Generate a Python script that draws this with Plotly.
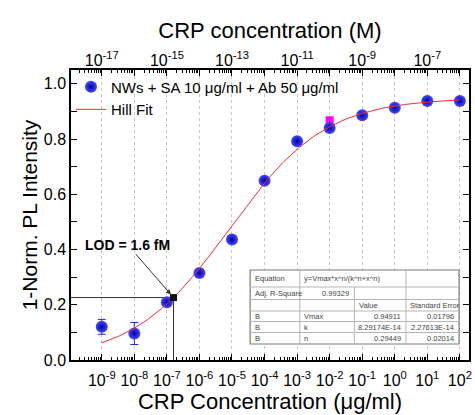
import numpy as np
import plotly.graph_objects as go

# ---- measured data (bottom axis: CRP in ug/ml) ----
conc_ugml = [1e-9, 1e-8, 1e-7, 1e-6, 1e-5, 1e-4, 1e-3, 1e-2, 1e-1, 1e0, 1e1, 1e2]
response = [0.120, 0.096, 0.209, 0.315, 0.436, 0.649, 0.792, 0.840, 0.886, 0.913, 0.938, 0.938]
response_err = [0.027, 0.040, 0.010, 0.013, 0.008, 0.006, 0.006, 0.006, 0.005, 0.005, 0.005, 0.005]

# extra reference point (magenta)
ref_conc_ugml = [1e-2]
ref_response = [0.868]

# ---- Hill fit parameters (x in M) ----
vmax = 0.94911
k_half = 8.29174e-14
n_hill = 0.29449
ugml_to_molar = 1e-8          # 1 ug/ml of CRP ~ 1e-8 M on the top axis
lod_molar = 1.6e-15           # LOD = 1.6 fM

# ---- tick labels ----
bottom_exps = list(range(-9, 3))
top_tick_exps = list(range(-18, -5))
top_label_exps = [-17, -15, -13, -11, -9, -7]

# ---- fit summary table ----
table_rows = [
    ["Equation", "y=Vmax*x^n/(k^n+x^n)", None, None],
    ["Adj. R-Square", "0.99329", None, None],
    [None, None, "Value", "Standard Error"],
    ["B", "Vmax", "0.94911", "0.01796"],
    ["B", "k", "8.29174E-14", "2.27613E-14"],
    ["B", "n", "0.29449", "0.02014"],
]


def hill(x_molar):
    x = np.asarray(x_molar, dtype=float)
    return vmax * x ** n_hill / (k_half ** n_hill + x ** n_hill)


FONT = "Liberation Sans, Arial, sans-serif"

# plot-area geometry in pixels (used to place layout items)
W, H = 475, 415
L, R, T, B = 71, 472, 70, 360
xr = [-9.945, 2.28]
yr = [0.0, 1.05]


def px_x(p):
    return (p - L) / (R - L)


def px_y(p):
    return (B - p) / (B - T)


lx = np.log10(conc_ugml)
fit_lx = np.linspace(-9, 2, 300)
fit_y = hill(10 ** fit_lx * ugml_to_molar)

lod_lx = np.log10(lod_molar / ugml_to_molar)
lod_y = float(hill(lod_molar))

fig = go.Figure()

# LOD guide lines
fig.add_trace(go.Scatter(
    x=[xr[0], lod_lx, lod_lx], y=[lod_y, lod_y, 0],
    mode="lines", line=dict(color="#333333", width=1),
    showlegend=False, hoverinfo="skip"))

fig.add_trace(go.Scatter(
    x=np.log10(ref_conc_ugml), y=ref_response, mode="markers",
    marker=dict(symbol="square", size=8, color="#ff00ff"),
    showlegend=False))

fig.add_trace(go.Scatter(
    x=lx, y=response, mode="markers",
    name="NWs + SA 10 \u03bcg/ml + Ab 50 \u03bcg/ml",
    marker=dict(symbol="circle", size=12, color="#4848ff",
                gradient=dict(type="radial", color="#0000a8"),
                line=dict(width=0)),
    error_y=dict(type="data", array=response_err, color="#2626e6",
                 thickness=1, width=4)))

fig.add_trace(go.Scatter(
    x=fit_lx, y=fit_y, mode="lines", name="Hill Fit",
    line=dict(color="#f03030", width=1)))

fig.add_trace(go.Scatter(
    x=[lod_lx], y=[lod_y], mode="markers",
    marker=dict(symbol="square", size=7, color="#111111"),
    showlegend=False))

# traces bound to the top axes so they are drawn
for ax in ("x2", "x3"):
    fig.add_trace(go.Scatter(x=[xr[0] - 8], y=[-1], xaxis=ax, mode="markers",
                             showlegend=False, hoverinfo="skip"))


def minor_vals(lo, hi):
    vals = []
    for e in range(lo, hi + 1):
        for m in range(2, 10):
            vals.append(e + np.log10(m))
    return vals


sup = lambda e: f"10<sup>{e}</sup>"

fig.update_layout(
    width=W, height=H,
    margin=dict(l=L, r=W - R, t=T, b=H - B),
    paper_bgcolor="white", plot_bgcolor="white",
    font=dict(family=FONT, color="black"),
    showlegend=True,
    legend=dict(x=0.0, y=0.998, xanchor="left", yanchor="top",
                bgcolor="rgba(0,0,0,0)", font=dict(size=15, family=FONT),
                tracegroupgap=0, itemwidth=30),
    xaxis=dict(
        range=xr, showline=True, linecolor="black", linewidth=1.5,
        mirror=True, ticks="inside", ticklen=6, tickcolor="black",
        tickvals=bottom_exps, ticktext=[sup(e) for e in bottom_exps],
        tickfont=dict(size=16, family=FONT), ticklabelstandoff=5,
        showgrid=True, gridcolor="#c8c8c8", griddash="dot", gridwidth=1,
        zeroline=False,
        minor=dict(tickvals=minor_vals(-10, 2), ticks="inside", ticklen=3,
                   tickcolor="black", showgrid=False),
        title=dict(text="CRP Concentration (\u03bcg/ml)",
                   font=dict(size=22, family=FONT), standoff=4),
    ),
    # labelled top axis (CRP in M), every second decade
    xaxis2=dict(
        range=[xr[0] - 8, xr[1] - 8], overlaying="x", side="top",
        showline=False, ticks="inside", ticklen=6, tickcolor="black",
        tickvals=top_label_exps, ticktext=[sup(e) for e in top_label_exps],
        tickfont=dict(size=16, family=FONT),
        showgrid=False, zeroline=False,
        minor=dict(tickvals=minor_vals(-18, -6), ticks="inside", ticklen=3,
                   tickcolor="black", showgrid=False),
        title=dict(text="CRP concentration (M)",
                   font=dict(size=22, family=FONT), standoff=4),
    ),
    # unlabelled decade ticks on the top axis
    xaxis3=dict(
        range=[xr[0] - 8, xr[1] - 8], overlaying="x", side="top",
        showline=False, ticks="inside", ticklen=6, tickcolor="black",
        tickvals=top_tick_exps, showticklabels=False,
        showgrid=False, zeroline=False,
    ),
    yaxis=dict(
        range=yr, showline=True, linecolor="black", linewidth=1.5,
        mirror="allticks", ticks="inside", ticklen=6, tickcolor="black",
        tickvals=[0, 0.2, 0.4, 0.6, 0.8, 1.0], tickformat=".1f",
        tickfont=dict(size=16, family=FONT),
        showgrid=False, zeroline=False,
        minor=dict(tickvals=[0.1, 0.3, 0.5, 0.7, 0.9], ticks="inside",
                   ticklen=3, tickcolor="black", showgrid=False),
        title=dict(text="1-Norm. PL Intensity",
                   font=dict(size=21, family=FONT), standoff=0),
    ),
)

# LOD label with arrow to the detection-limit point
fig.add_annotation(x=lod_lx, y=lod_y, xref="x", yref="y",
                   text="<b>LOD = 1.6 fM</b>", showarrow=True,
                   ax=-46, ay=-53, arrowhead=2, arrowsize=1, arrowwidth=1,
                   arrowcolor="#333333", standoff=4,
                   font=dict(size=14, family=FONT, color="black"))

# fit summary table
col_px = [251.5, 301.5, 356.5, 408.5, 462.0]
row_px = [270.0, 287.0, 299.5, 311.0, 321.5, 332.5, 344.0]
x0, x1 = px_x(col_px[0]), px_x(col_px[-1])
y0, y1 = px_y(row_px[-1]), px_y(row_px[0])
fig.add_shape(type="rect", xref="paper", yref="paper", x0=x0, x1=x1,
              y0=y0, y1=y1, fillcolor="white",
              line=dict(color="#7a7a7a", width=1.2), layer="above")
for rp in row_px[1:-1]:
    fig.add_shape(type="line", xref="paper", yref="paper", x0=x0, x1=x1,
                  y0=px_y(rp), y1=px_y(rp),
                  line=dict(color="#b5b5b5", width=1), layer="above")
for ci, cp in enumerate(col_px[1:-1], start=1):
    top_row = 1 if ci == 2 else 0   # first row merges columns 2-3
    fig.add_shape(type="line", xref="paper", yref="paper",
                  x0=px_x(cp), x1=px_x(cp),
                  y0=px_y(row_px[-1]), y1=px_y(row_px[top_row]),
                  line=dict(color="#b5b5b5", width=1), layer="above")

for ri, row in enumerate(table_rows):
    yc = px_y((row_px[ri] + row_px[ri + 1]) / 2)
    for ci, txt in enumerate(row):
        if not txt:
            continue
        numeric = txt[0].isdigit()
        if numeric:
            xa, anchor = px_x(col_px[ci + 1] - 3), "right"
        else:
            xa, anchor = px_x(col_px[ci] + 2.5), "left"
        fig.add_annotation(x=xa, y=yc, xref="paper", yref="paper",
                           text=txt, showarrow=False, xanchor=anchor,
                           yanchor="middle",
                           font=dict(size=7.5, family=FONT, color="#444444"))

fig.write_html("out.html")
